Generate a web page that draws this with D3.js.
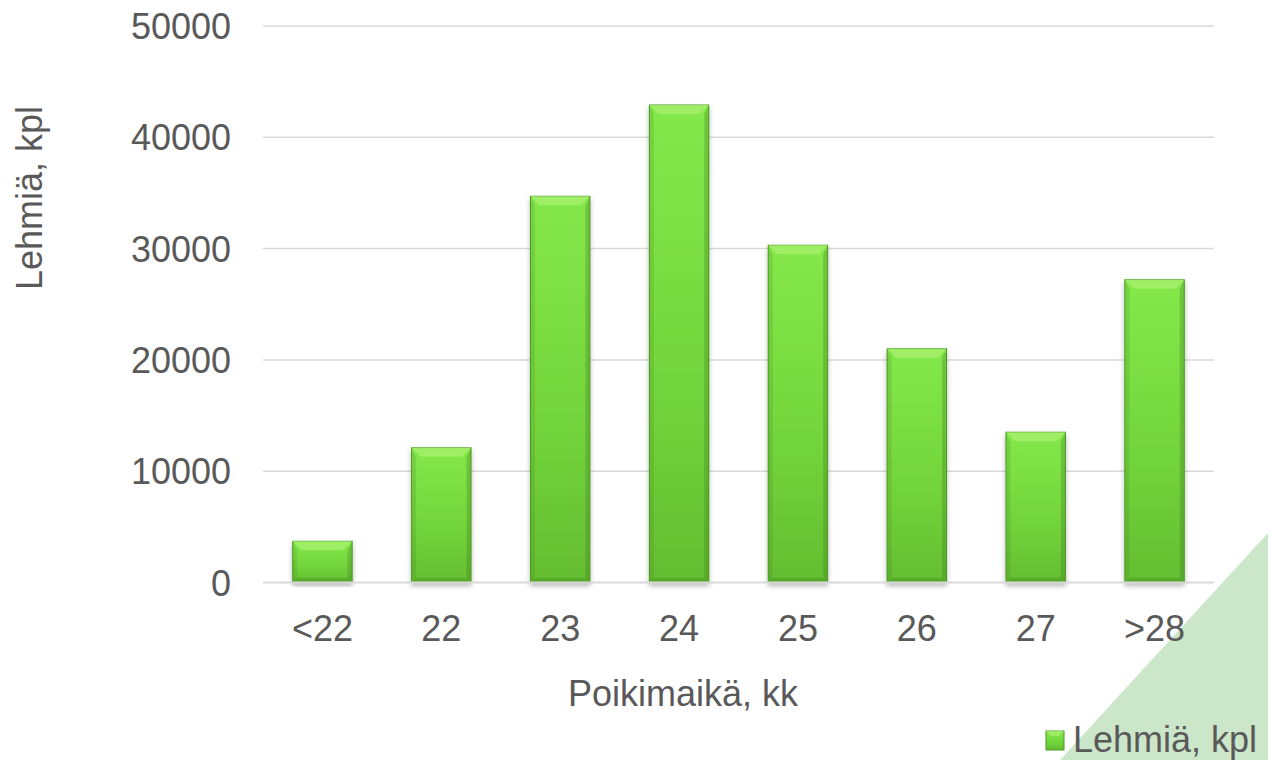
<!DOCTYPE html>
<html>
<head>
<meta charset="utf-8">
<script src="https://cdn.jsdelivr.net/npm/d3@7"></script>
<style>
  html, body { margin: 0; padding: 0; background: #fff; }
  svg { display: block; font-family: "Liberation Sans", Arial, sans-serif; }
</style>
</head>
<body>
<div id="chart"></div>
<script>
// data
const categories = ["<22", "22", "23", "24", "25", "26", "27", ">28"];
const cows = [3700, 12100, 34700, 42900, 30300, 21000, 13500, 27200];
const yTicks = [0, 10000, 20000, 30000, 40000, 50000];
const seriesName = "Lehmiä, kpl";
const xTitle = "Poikimaikä, kk";
const yTitle = "Lehmiä, kpl";

const width = 1268, height = 760;
const textColor = "#595959";

const svg = d3.select("#chart").append("svg")
    .attr("width", width)
    .attr("height", height);

const defs = svg.append("defs");

// vertical gradient for bar body
const grad = defs.append("linearGradient")
    .attr("id", "barFill")
    .attr("x1", 0).attr("y1", 0).attr("x2", 0).attr("y2", 1);
grad.append("stop").attr("offset", "0%").attr("stop-color", "#84e84a");
grad.append("stop").attr("offset", "60%").attr("stop-color", "#72d43b");
grad.append("stop").attr("offset", "100%").attr("stop-color", "#64bd31");

// soft shadow under bars
const shadow = defs.append("filter")
    .attr("id", "shadow")
    .attr("x", "-20%").attr("y", "-5%")
    .attr("width", "140%").attr("height", "115%");
shadow.append("feDropShadow")
    .attr("dx", 0).attr("dy", 3)
    .attr("stdDeviation", 2.5)
    .attr("flood-color", "#000")
    .attr("flood-opacity", 0.28);

// light green corner decoration
svg.append("path")
    .attr("d", `M${width},533 L${width},${height} L1060,${height} Z`)
    .attr("fill", "#cbe6c8");

// scales
const x = d3.scaleBand()
    .domain(categories)
    .range([263, 1214])
    .paddingInner(0.5)
    .paddingOuter(0.25);

const y = d3.scaleLinear()
    .domain([0, 50000])
    .range([582.5, 26]);

// gridlines
svg.append("g")
    .selectAll("line")
    .data(yTicks.filter(d => d > 0))
    .join("line")
    .attr("x1", 263)
    .attr("x2", 1214)
    .attr("y1", d => y(d))
    .attr("y2", d => y(d))
    .attr("stroke", "#d9d9d9")
    .attr("stroke-width", 1.5);

// y axis tick labels
const yAxis = svg.append("g")
    .attr("transform", "translate(231,0)")
    .call(d3.axisLeft(y).tickValues(yTicks).tickSize(0).tickPadding(0).tickFormat(d3.format("d")));
yAxis.select(".domain").remove();
yAxis.selectAll("text")
    .attr("fill", textColor)
    .attr("font-size", 36)
    .attr("font-family", "Liberation Sans, Arial, sans-serif")
    .attr("dy", "0.35em");

// bars
const bars = svg.append("g")
    .selectAll("g")
    .data(categories.map((c, i) => ({ cat: c, value: cows[i] })))
    .join("g");

bars.append("rect")
    .attr("x", d => x(d.cat))
    .attr("y", d => y(d.value))
    .attr("width", x.bandwidth())
    .attr("height", d => y(0) - y(d.value))
    .attr("fill", "url(#barFill)")
    .attr("stroke", "#4f9a27")
    .attr("stroke-width", 1)
    .attr("filter", "url(#shadow)");

const bevel = 9;

// top bevel highlight
bars.append("path")
    .attr("d", d => {
        const x0 = x(d.cat), x1 = x0 + x.bandwidth(), y0 = y(d.value);
        return `M${x0},${y0} L${x1},${y0} L${x1 - bevel},${y0 + bevel} L${x0 + bevel},${y0 + bevel} Z`;
    })
    .attr("fill", "#a8f070")
    .attr("opacity", 0.75);

// side bevels
bars.append("path")
    .attr("d", d => {
        const x0 = x(d.cat), y0 = y(d.value), y1 = y(0);
        return `M${x0},${y0} L${x0 + bevel * 0.5},${y0 + bevel} L${x0 + bevel * 0.5},${y1 - bevel * 0.5} L${x0},${y1} Z`;
    })
    .attr("fill", "#3d7a1c")
    .attr("opacity", 0.18);

bars.append("path")
    .attr("d", d => {
        const x1 = x(d.cat) + x.bandwidth(), y0 = y(d.value), y1 = y(0);
        return `M${x1},${y0} L${x1 - bevel * 0.5},${y0 + bevel} L${x1 - bevel * 0.5},${y1 - bevel * 0.5} L${x1},${y1} Z`;
    })
    .attr("fill", "#3d7a1c")
    .attr("opacity", 0.3);

// bottom bevel
bars.append("path")
    .attr("d", d => {
        const x0 = x(d.cat), x1 = x0 + x.bandwidth(), y1 = y(0);
        return `M${x0},${y1} L${x1},${y1} L${x1 - bevel * 0.5},${y1 - bevel * 0.5} L${x0 + bevel * 0.5},${y1 - bevel * 0.5} Z`;
    })
    .attr("fill", "#3d7a1c")
    .attr("opacity", 0.3);

// baseline
svg.append("line")
    .attr("x1", 263)
    .attr("x2", 1214)
    .attr("y1", y(0))
    .attr("y2", y(0))
    .attr("stroke", "#d9d9d9")
    .attr("stroke-width", 2);

// x axis labels
const xAxis = svg.append("g")
    .attr("transform", "translate(0,641)")
    .call(d3.axisBottom(x).tickSize(0).tickPadding(0));
xAxis.select(".domain").remove();
xAxis.selectAll("text")
    .attr("fill", textColor)
    .attr("font-size", 36)
    .attr("font-family", "Liberation Sans, Arial, sans-serif")
    .attr("dy", 0)
    .attr("y", 0);

// axis titles
svg.append("text")
    .attr("x", 683)
    .attr("y", 706)
    .attr("text-anchor", "middle")
    .attr("fill", textColor)
    .attr("font-size", 36)
    .text(xTitle);

svg.append("text")
    .attr("transform", "translate(42,198) rotate(-90)")
    .attr("text-anchor", "middle")
    .attr("fill", textColor)
    .attr("font-size", 36)
    .text(yTitle);

// legend
const legend = svg.append("g").attr("transform", "translate(1046,731)");
legend.append("rect")
    .attr("width", 18)
    .attr("height", 19)
    .attr("fill", "url(#barFill)")
    .attr("stroke", "#4f9a27")
    .attr("stroke-width", 1);
legend.append("path")
    .attr("d", "M0,0 L18,0 L13,5 L5,5 Z")
    .attr("fill", "#a8f070")
    .attr("opacity", 0.75);
legend.append("text")
    .attr("x", 27)
    .attr("y", 21)
    .attr("fill", textColor)
    .attr("font-size", 36)
    .text(seriesName);
</script>
</body>
</html>
